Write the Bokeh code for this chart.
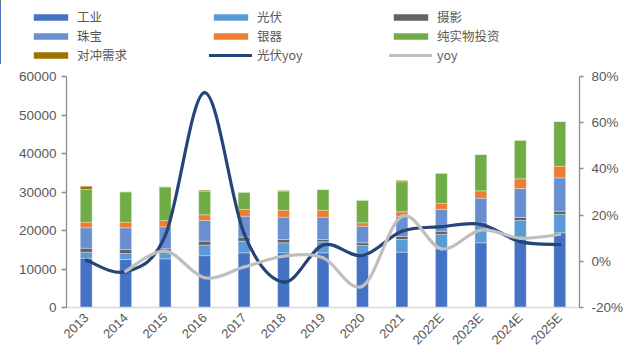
import math
from bokeh.plotting import figure
from bokeh.models import (Range1d, LinearAxis, Legend, LegendItem, NumeralTickFormatter,
                          FixedTicker, ColumnDataSource)
from bokeh.embed import file_html
from bokeh.resources import INLINE

years = ["2013", "2014", "2015", "2016", "2017", "2018", "2019", "2020", "2021",
         "2022E", "2023E", "2024E", "2025E"]
industrial = [12800, 12470, 12650, 13450, 14200, 14200, 14200, 13500, 14370, 15240, 16800, 17600, 19400]
pv = [1560, 1560, 1970, 2740, 3030, 2600, 2850, 2600, 3290, 3720, 4500, 5000, 4760]
photo = [1040, 1030, 620, 1040, 1040, 860, 610, 700, 780, 860, 700, 800, 860]
jewelry = [5300, 5640, 5720, 5370, 5450, 5800, 5800, 4320, 5280, 5630, 6400, 7510, 8660]
silverware = [1460, 1460, 1640, 1470, 1730, 1820, 1820, 880, 1130, 1560, 1900, 2510, 3020]
investment = [8490, 7880, 8750, 6060, 4500, 4940, 5370, 5880, 7800, 7870, 9440, 10030, 11610]
hedging = [850, 0, 0, 340, 0, 180, 0, 0, 340, 0, 0, 0, 0]
pv_yoy = [0.005, -0.045, 0.11, 0.73, 0.12, -0.09, 0.07, 0.025, 0.13, 0.15, 0.16, 0.085, 0.072]
total_yoy = [None, -0.043, 0.044, -0.071, -0.025, 0.022, 0.015, -0.108, 0.195, 0.054, 0.135, 0.10, 0.116]

left_ticks = [0, 10000, 20000, 30000, 40000, 50000, 60000]
right_ticks = [-0.2, 0.0, 0.2, 0.4, 0.6, 0.8]

names = ["工业", "光伏", "摄影", "珠宝", "银器", "纯实物投资", "对冲需求"]
line_names = ["光伏yoy", "yoy"]
colors = ["#4472C4", "#5B9BD5", "#636363", "#6A8FD1", "#ED7D31", "#70AD47", "#9C7200"]
keys = ["industrial", "pv", "photo", "jewelry", "silverware", "investment", "hedging"]
pv_col = "#264478"
tot_col = "#BFBFBF"

tick_color = "#595959"
font = "Liberation Sans"

src = ColumnDataSource(dict(x=list(range(len(years))), industrial=industrial, pv=pv, photo=photo,
                            jewelry=jewelry, silverware=silverware, investment=investment,
                            hedging=hedging,
                            pv_yoy=pv_yoy,
                            total_yoy=[float("nan") if v is None else v for v in total_yoy]))

# ---------------- main chart ----------------
p = figure(frame_width=513, frame_height=231, output_backend="svg", toolbar_location=None,
           x_range=Range1d(-0.5, len(years) - 0.5), y_range=Range1d(0, 60000),
           min_border_left=66, min_border_right=48, min_border_bottom=0, min_border_top=12)
p.extra_y_ranges = {"pct": Range1d(-0.2, 0.8)}
p.outline_line_color = None
p.xgrid.visible = False
p.ygrid.visible = False
p.background_fill_color = "white"
p.border_fill_color = "white"

bars = p.vbar_stack(keys, x="x", width=0.3, color=colors, source=src,
                    line_color="white", line_alpha=0.5, line_width=0.6)


def bezier_parts(vals):
    pts = [(i, v) for i, v in enumerate(vals) if v is not None]
    xs = [q[0] for q in pts]
    ys = [q[1] for q in pts]
    n = len(xs)
    d = dict(x0=[], y0=[], x1=[], y1=[], cx0=[], cy0=[], cx1=[], cy1=[])
    for k in range(n - 1):
        km = max(k - 1, 0)
        kp = min(k + 2, n - 1)
        d["x0"].append(xs[k]); d["y0"].append(ys[k])
        d["x1"].append(xs[k + 1]); d["y1"].append(ys[k + 1])
        d["cx0"].append(xs[k] + (xs[k + 1] - xs[km]) / 6)
        d["cy0"].append(ys[k] + (ys[k + 1] - ys[km]) / 6)
        d["cx1"].append(xs[k + 1] - (xs[kp] - xs[k]) / 6)
        d["cy1"].append(ys[k + 1] - (ys[kp] - ys[k]) / 6)
    return ColumnDataSource(d)


p.bezier(x0="x0", y0="y0", x1="x1", y1="y1", cx0="cx0", cy0="cy0", cx1="cx1", cy1="cy1",
         source=bezier_parts(pv_yoy), line_color=pv_col, line_width=3.2, line_cap="round",
         y_range_name="pct")
p.bezier(x0="x0", y0="y0", x1="x1", y1="y1", cx0="cx0", cy0="cy0", cx1="cx1", cy1="cy1",
         source=bezier_parts(total_yoy), line_color=tot_col, line_width=3.2, line_cap="round",
         y_range_name="pct")

# left axis
ly = p.yaxis[0]
ly.ticker = FixedTicker(ticks=left_ticks)
ly.formatter = NumeralTickFormatter(format="0")
ly.axis_line_color = "#8C8C8C"
ly.axis_line_width = 1.3
ly.major_tick_line_color = "#8C8C8C"
ly.major_tick_line_width = 1.3
ly.major_tick_out = 5
ly.major_tick_in = 0
ly.minor_tick_line_color = None
ly.major_label_standoff = 5
ly.major_label_text_font = font
ly.major_label_text_font_size = "13.5px"
ly.major_label_text_color = tick_color

# right axis
ry = LinearAxis(y_range_name="pct", ticker=FixedTicker(ticks=right_ticks),
                formatter=NumeralTickFormatter(format="0%"))
ry.axis_line_color = "#8C8C8C"
ry.axis_line_width = 1.3
ry.major_tick_line_color = "#8C8C8C"
ry.major_tick_line_width = 1.3
ry.major_tick_out = 4
ry.major_tick_in = 0
ry.minor_tick_line_color = None
ry.major_label_standoff = 8
ry.major_label_text_font = font
ry.major_label_text_font_size = "13.5px"
ry.major_label_text_color = tick_color
p.add_layout(ry, "right")

# bottom axis
bx = p.xaxis[0]
bx.ticker = FixedTicker(ticks=list(range(len(years))))
bx.major_label_overrides = {i: y for i, y in enumerate(years)}
bx.major_label_orientation = math.pi / 4
bx.axis_line_color = "#D9D9D9"
bx.axis_line_width = 1.5
bx.major_tick_line_color = None
bx.major_tick_out = 0
bx.major_tick_in = 0
bx.minor_tick_line_color = None
bx.minor_tick_out = 0
bx.major_label_standoff = 8
bx.major_label_text_font = font
bx.major_label_text_font_size = "13px"
bx.major_label_text_color = tick_color

# ---------------- legend strip (own root, full-width frame) ----------------
lg = figure(width=627, height=64, output_backend="svg", toolbar_location=None,
            x_range=Range1d(1000, 1001), y_range=Range1d(1000, 1001),
            x_axis_location=None, y_axis_location=None,
            min_border_left=0, min_border_right=0, min_border_top=0, min_border_bottom=0)
lg.outline_line_color = None
lg.xgrid.visible = False
lg.ygrid.visible = False
lg.background_fill_color = "white"
lg.border_fill_color = "white"

# same series, far outside this strip's visible ranges: they only supply the legend swatches
lg_bars = lg.vbar_stack(keys, x="x", width=0.3, color=colors, source=src, line_color=None)
lg_pv = lg.line(x="x", y="pv_yoy", source=src, line_color=pv_col, line_width=3.2, line_cap="round")
lg_tot = lg.line(x="x", y="total_yoy", source=src, line_color=tot_col, line_width=3.2,
                 line_cap="round")

items = [LegendItem(label=nm, renderers=[r]) for nm, r in zip(names, lg_bars)]
items.append(LegendItem(label=line_names[0], renderers=[lg_pv]))
items.append(LegendItem(label=line_names[1], renderers=[lg_tot]))

legend = Legend(items=items, location=(29, 0), orientation="horizontal", nrows=3, ncols=3,
                glyph_width=43, glyph_height=8, label_standoff=5, label_width=132,
                label_height=18, spacing=0, padding=0, margin=0,
                border_line_color=None, background_fill_alpha=0,
                label_text_font="Noto Sans CJK SC", label_text_font_size="12.5px",
                label_text_color=tick_color)
lg.add_layout(legend, "center")

open("out.html", "w").write(file_html([lg, p], INLINE))
